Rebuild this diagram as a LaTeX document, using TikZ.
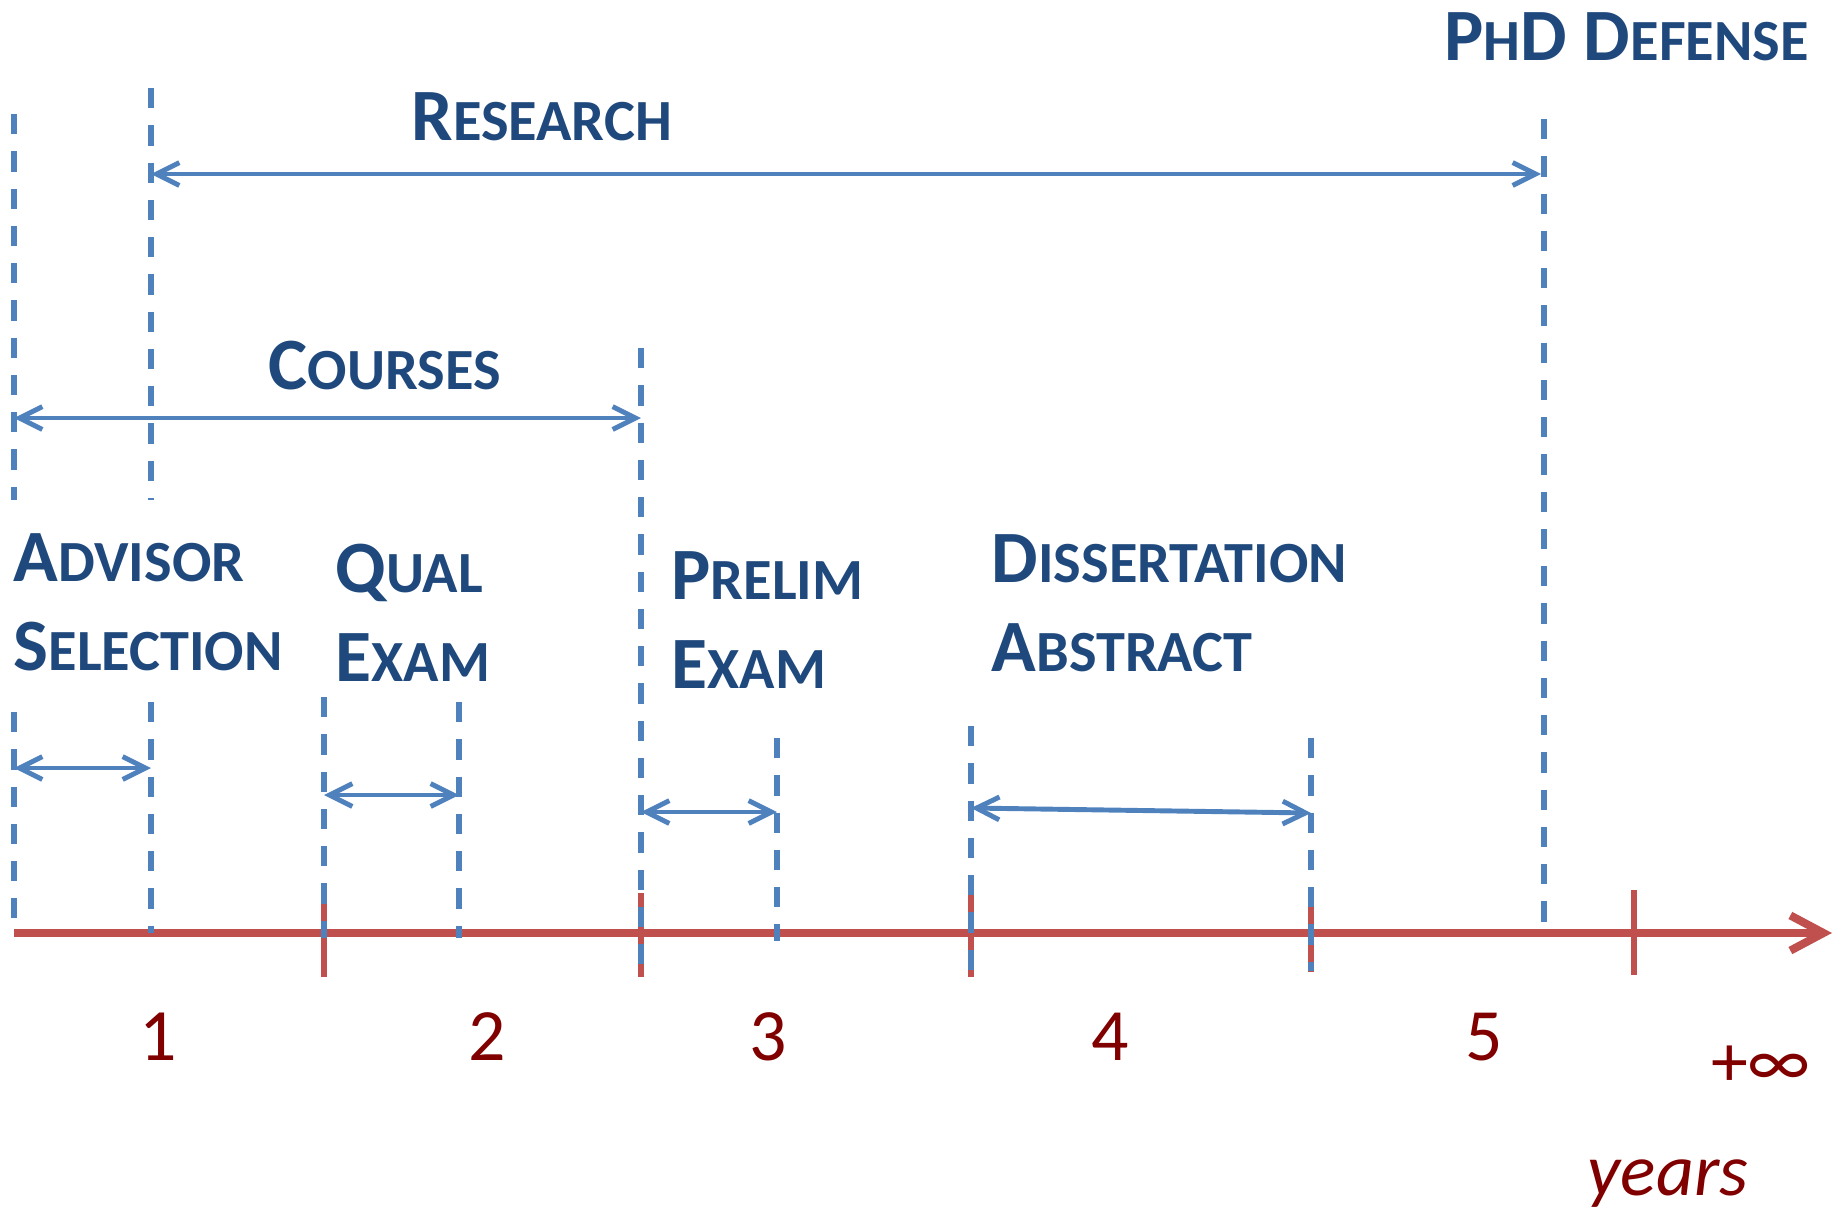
\documentclass[tikz,border=0pt]{standalone}
\usepackage{fontspec}
\setmainfont{Carlito}
\usetikzlibrary{arrows.meta}
\definecolor{lineblue}{HTML}{4F81BD}
\definecolor{axisred}{HTML}{C0504D}
\definecolor{textblue}{HTML}{1F497D}
\definecolor{numred}{HTML}{800000}
\newcommand{\capword}[2]{{\fontsize{21}{25.3}\selectfont #1}{\fontsize{16.6}{25.3}\selectfont #2}}

\begin{document}
\begin{tikzpicture}[
	x=0.1mm, y=-0.1mm,
        >={Straight Barb[length=6.5pt,width=6.5pt]},
	guide/.style={draw=lineblue, line width=1.6pt, dash pattern=on 5.8pt off 4.8pt},
	spanarrow/.style={draw=lineblue, line width=1.4pt, <->},
	timeline/.style={draw=axisred, line width=2.3pt},
	yeartick/.style={draw=axisred, line width=1.8pt},
	phase/.style={
		anchor=north west,
		inner sep=0,
		text=textblue,
		align=left,
		font=\bfseries\fontsize{21}{25.3}\selectfont
	},
	yearnum/.style={inner sep=0, text=numred, font=\fontsize{21}{25}\selectfont}
  	]
    \useasboundingbox (0,0) rectangle (1845,1211);

    % time axis
    \coordinate (t0) at (14,933);
    \coordinate (tend) at (1832,933);
    \draw[timeline, -{Straight Barb[length=9.4pt,width=10pt]}] (t0) -- (tend);
    \draw[yeartick] (324,893) -- (324,977);
    \draw[yeartick] (641,893) -- (641,977);
    \draw[yeartick] (971,893) -- (971,977);
    \draw[yeartick] (1311,889) -- (1311,972);
    \draw[yeartick] (1634,890) -- (1634,975);

    % guides
    \coordinate (a1) at (14,114);   \coordinate (a2) at (14,500);
    \coordinate (a3) at (14,712);   \coordinate (a4) at (14,918);
    \coordinate (b1) at (151,88);   \coordinate (b2) at (151,500);
    \coordinate (b3) at (151,702);  \coordinate (b4) at (151,933);
    \coordinate (q1) at (324,697);  \coordinate (q2) at (324,938);
    \coordinate (q3) at (459,702);  \coordinate (q4) at (459,938);
    \coordinate (p1) at (641,348);  \coordinate (p2) at (641,977);
    \coordinate (p3) at (777,738);  \coordinate (p4) at (777,941);
    \coordinate (d1) at (971,726);  \coordinate (d2) at (971,977);
    \coordinate (d3) at (1311,738); \coordinate (d4) at (1311,971);
    \coordinate (f1) at (1544,119); \coordinate (f2) at (1544,926);
    \draw[guide] (a1) -- (a2);
    \draw[guide] (a3) -- (a4);
    \draw[guide] (b1) -- (b2);
    \draw[guide] (b3) -- (b4);
    \draw[guide] (q1) -- (q2);
    \draw[guide] (q3) -- (q4);
    \draw[guide] (p1) -- (p2);
    \draw[guide] (p3) -- (p4);
    \draw[guide] (d1) -- (d2);
    \draw[guide] (d3) -- (d4);
    \draw[guide] (f1) -- (f2);

    % research and courses
    \coordinate (rs) at (151,174);  \coordinate (re) at (1541,174);
    \coordinate (cs) at (14,418);   \coordinate (ce) at (641,418);
    \draw[spanarrow] (rs) -- (re);
    \draw[spanarrow] (cs) -- (ce);
    \node[phase] at (1444,12) (defense) {\capword{P}{H}\capword{D}{} \capword{D}{EFENSE}};
    \node[phase] at (411,92) (research) {\capword{R}{ESEARCH}};
    \node[phase] at (268,340) (courses) {\capword{C}{OURSES}};

    % milestones
    \coordinate (as) at (14,768);   \coordinate (ae) at (151,768);
    \coordinate (qs) at (324,795);  \coordinate (qe) at (459,795);
    \coordinate (ps) at (641,812);  \coordinate (pe) at (777,812);
    \coordinate (ds) at (971,808);  \coordinate (de) at (1311,813);
    \draw[spanarrow] (as) -- (ae);
    \draw[spanarrow] (qs) -- (qe);
    \draw[spanarrow] (ps) -- (pe);
    \draw[spanarrow] (ds) -- (de);
    \node[phase] at (13,533) (advisor) {\capword{A}{DVISOR}\\\capword{S}{ELECTION}};
    \node[phase] at (335,543) (qual) {\capword{Q}{UAL}\\\capword{E}{XAM}};
    \node[phase] at (671,551) (prelim) {\capword{P}{RELIM}\\\capword{E}{XAM}};
    \node[phase] at (991,534) (abstract) {\capword{D}{ISSERTATION}\\\capword{A}{BSTRACT}};

    % years
    \node[yearnum] at (158,1037) (y1) {1};
    \node[yearnum] at (487,1037) (y2) {2};
    \node[yearnum] at (768,1037) (y3) {3};
    \node[yearnum] at (1110,1037) (y4) {4};
    \node[yearnum] at (1484,1037) (y5) {5};
    \node[yearnum] at (1761,1066) (yinf) {+∞};
    \node[yearnum, anchor=base, font=\itshape\fontsize{21}{25}\selectfont] at (1668,1195) (years) {years};
\end{tikzpicture}
\end{document}
